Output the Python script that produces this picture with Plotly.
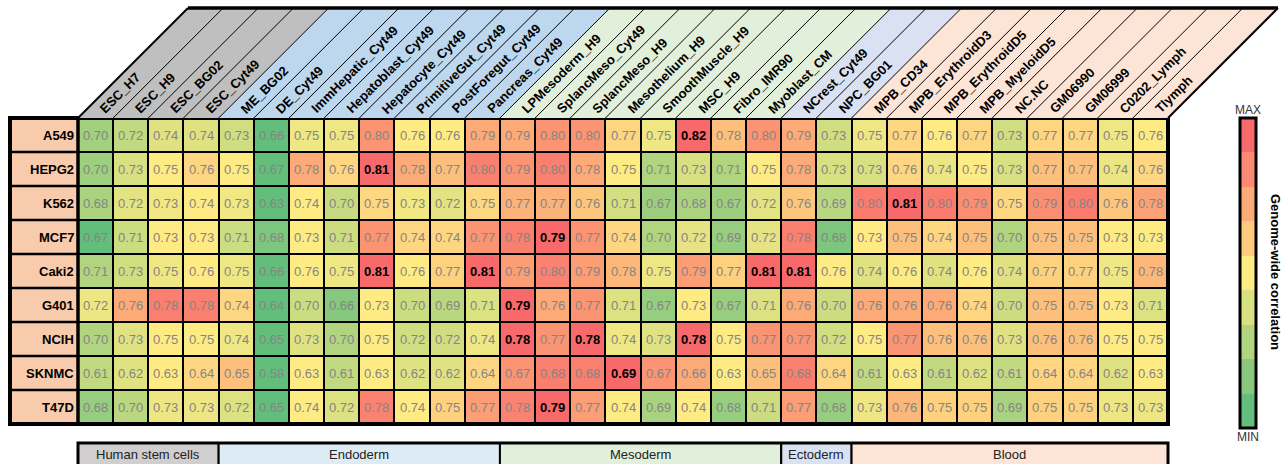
import numpy as np
import plotly.graph_objects as go

# ---------------- data ----------------
columns = ["ESC_H7", "ESC_H9", "ESC_BG02", "ESC_Cyt49", "ME_BG02", "DE_Cyt49",
           "ImmHepatic_Cyt49", "Hepatoblast_Cyt49", "Hepatocyte_Cyt49",
           "PrimitiveGut_Cyt49", "PostForegut_Cyt49", "Pancreas_Cyt49",
           "LPMesoderm_H9", "SplancMeso_Cyt49", "SplancMeso_H9", "Mesothelium_H9",
           "SmoothMuscle_H9", "MSC_H9", "Fibro_IMR90", "Myoblast_CM",
           "NCrest_Cyt49", "NPC_BG01", "MPB_CD34", "MPB_ErythroidD3",
           "MPB_ErythroidD5", "MPB_MyeloidD5", "NC.NC", "GM06990", "GM06999",
           "C0202_Lymph", "Tlymph"]

rows = ["A549", "HEPG2", "K562", "MCF7", "Caki2", "G401", "NCIH", "SKNMC", "T47D"]

A549 = [0.70, 0.72, 0.74, 0.74, 0.73, 0.66, 0.75, 0.75, 0.80, 0.76, 0.76, 0.79, 0.79, 0.80, 0.80, 0.77,
        0.75, 0.82, 0.78, 0.80, 0.79, 0.73, 0.75, 0.77, 0.76, 0.77, 0.73, 0.77, 0.77, 0.75, 0.76]
HEPG2 = [0.70, 0.73, 0.75, 0.76, 0.75, 0.67, 0.78, 0.76, 0.81, 0.78, 0.77, 0.80, 0.79, 0.80, 0.78, 0.75,
         0.71, 0.73, 0.71, 0.75, 0.78, 0.73, 0.73, 0.76, 0.74, 0.75, 0.73, 0.77, 0.77, 0.74, 0.76]
K562 = [0.68, 0.72, 0.73, 0.74, 0.73, 0.63, 0.74, 0.70, 0.75, 0.73, 0.72, 0.75, 0.77, 0.77, 0.76, 0.71,
        0.67, 0.68, 0.67, 0.72, 0.76, 0.69, 0.80, 0.81, 0.80, 0.79, 0.75, 0.79, 0.80, 0.76, 0.78]
MCF7 = [0.67, 0.71, 0.73, 0.73, 0.71, 0.68, 0.73, 0.71, 0.77, 0.74, 0.74, 0.77, 0.78, 0.79, 0.77, 0.74,
        0.70, 0.72, 0.69, 0.72, 0.78, 0.68, 0.73, 0.75, 0.74, 0.75, 0.70, 0.75, 0.75, 0.73, 0.73]
Caki2 = [0.71, 0.73, 0.75, 0.76, 0.75, 0.66, 0.76, 0.75, 0.81, 0.76, 0.77, 0.81, 0.79, 0.80, 0.79, 0.78,
         0.75, 0.79, 0.77, 0.81, 0.81, 0.76, 0.74, 0.76, 0.74, 0.76, 0.74, 0.77, 0.77, 0.75, 0.78]
G401 = [0.72, 0.76, 0.78, 0.78, 0.74, 0.64, 0.70, 0.66, 0.73, 0.70, 0.69, 0.71, 0.79, 0.76, 0.77, 0.71,
        0.67, 0.73, 0.67, 0.71, 0.76, 0.70, 0.76, 0.76, 0.76, 0.74, 0.70, 0.75, 0.75, 0.73, 0.71]
NCIH = [0.70, 0.73, 0.75, 0.75, 0.74, 0.65, 0.73, 0.70, 0.75, 0.72, 0.72, 0.74, 0.78, 0.77, 0.78, 0.74,
        0.73, 0.78, 0.75, 0.77, 0.77, 0.72, 0.75, 0.77, 0.76, 0.76, 0.73, 0.76, 0.76, 0.75, 0.75]
SKNMC = [0.61, 0.62, 0.63, 0.64, 0.65, 0.58, 0.63, 0.61, 0.63, 0.62, 0.62, 0.64, 0.67, 0.68, 0.68, 0.69,
         0.67, 0.66, 0.63, 0.65, 0.68, 0.64, 0.61, 0.63, 0.61, 0.62, 0.61, 0.64, 0.64, 0.62, 0.63]
T47D = [0.68, 0.70, 0.73, 0.73, 0.72, 0.65, 0.74, 0.72, 0.78, 0.74, 0.75, 0.77, 0.78, 0.79, 0.77, 0.74,
        0.69, 0.74, 0.68, 0.71, 0.77, 0.68, 0.73, 0.76, 0.75, 0.75, 0.69, 0.75, 0.75, 0.73, 0.73]

row_values = [A549, HEPG2, K562, MCF7, Caki2, G401, NCIH, SKNMC, T47D]

groups = ["Human stem cells", "Endoderm", "Mesoderm", "Ectoderm", "Blood"]
group_sizes = [4, 8, 8, 2, 9]

# ---------------- styles ----------------
header_colors = ["#bfbfbf", "#bdd7ee", "#e2efda", "#d9e1f2", "#fce4d6"]
bar_colors = ["#d0cece", "#ddebf7", "#e2efda", "#d9e1f2", "#fce4d6"]
label_bg = "#f8cbad"
C_MIN, C_MID, C_MAX = (99, 190, 123), (255, 235, 132), (248, 105, 107)
FONT = "Liberation Sans, Arial, Helvetica, sans-serif"

W, H = 1284, 464
L, R, T, B = 78, 1168, 118, 424      # plot area in pixels
HEAD_TOP = 8
LABEL_LEFT = 10
BAR_TOP, BAR_BOT = 443, 475

def pxx(x):
    return (x - L) / (R - L)

def pyy(y):
    return (B - y) / (B - T)

ncol, nrow = len(columns), len(rows)
cw = (R - L) / ncol
rh = (B - T) / nrow
hh = T - HEAD_TOP

# row-wise 3-colour scaling (min / median / max)
z = []
for vals in row_values:
    v = np.array(vals, dtype=float)
    lo, med, hi = v.min(), np.median(v), v.max()
    zr = np.where(v <= med, 0.5 * (v - lo) / (med - lo), 0.5 + 0.5 * (v - med) / (hi - med))
    z.append(zr.tolist())

def rgb(c):
    return "rgb(%d,%d,%d)" % tuple(int(round(x)) for x in c)

def lerp(a, b, t):
    return tuple(a[k] + (b[k] - a[k]) * t for k in range(3))

cont_scale = [[0, rgb(C_MIN)], [0.5, rgb(C_MID)], [1, rgb(C_MAX)]]
disc_scale = []
for i in range(9):
    t = i / 8
    c = lerp(C_MIN, C_MID, t * 2) if t <= 0.5 else lerp(C_MID, C_MAX, (t - 0.5) * 2)
    disc_scale.append([i / 9, rgb(c)])
    disc_scale.append([(i + 1) / 9, rgb(c)])

fig = go.Figure()
fig.add_trace(go.Heatmap(
    z=z, x=columns, y=rows, colorscale=cont_scale, zmin=0, zmax=1,
    xgap=2, ygap=2, showscale=False, hoverinfo="skip"))

# dummy trace carrying the discrete colour bar
fig.add_trace(go.Scatter(
    x=[columns[0]], y=[rows[0]], mode="markers", hoverinfo="skip", showlegend=False,
    marker=dict(size=1, opacity=0, color=[0.5], colorscale=disc_scale, cmin=0, cmax=1,
                showscale=True,
                colorbar=dict(x=pxx(1240), xanchor="left", y=pyy(273), yanchor="middle",
                              len=310, lenmode="pixels", thickness=16, thicknessmode="pixels",
                              outlinewidth=3, outlinecolor="black", showticklabels=False,
                              ticks="", xpad=0, ypad=0))))

shapes = []
annotations = []

# row label column
shapes.append(dict(type="rect", xref="paper", yref="paper", x0=pxx(LABEL_LEFT), x1=0, y0=0, y1=1,
                   fillcolor=label_bg, line=dict(width=0), layer="above"))
for k in range(1, nrow):
    yk = pyy(T + k * rh)
    shapes.append(dict(type="line", xref="paper", yref="paper", x0=pxx(LABEL_LEFT), x1=0,
                       y0=yk, y1=yk, line=dict(color="black", width=2.5)))
shapes.append(dict(type="line", xref="paper", yref="paper", x0=0, x1=0, y0=0, y1=1,
                   line=dict(color="black", width=3.5)))
shapes.append(dict(type="rect", xref="paper", yref="paper", x0=pxx(LABEL_LEFT), x1=1, y0=0, y1=1,
                   line=dict(color="black", width=4)))

# slanted header
start = 0
for g, n in enumerate(group_sizes):
    xa, xb = L + start * cw, L + (start + n) * cw
    path = "M %f,%f L %f,%f L %f,%f L %f,%f Z" % (
        pxx(xa), pyy(T), pxx(xb), pyy(T), pxx(xb + hh), pyy(HEAD_TOP), pxx(xa + hh), pyy(HEAD_TOP))
    shapes.append(dict(type="path", xref="paper", yref="paper", path=path,
                       fillcolor=header_colors[g], line=dict(width=0), layer="above"))
    # bottom group bar
    shapes.append(dict(type="rect", xref="paper", yref="paper", x0=pxx(xa), x1=pxx(xb),
                       y0=pyy(BAR_BOT), y1=pyy(BAR_TOP), fillcolor=bar_colors[g],
                       line=dict(color="black", width=2), layer="above"))
    annotations.append(dict(xref="paper", yref="paper", x=pxx((xa + xb) / 2), y=pyy(454),
                            xanchor="center", yanchor="middle",
                            text=groups[g], showarrow=False,
                            font=dict(family=FONT, size=13, color="#222222")))
    start += n

shapes.append(dict(type="rect", xref="paper", yref="paper", x0=0, x1=1,
                   y0=pyy(BAR_BOT), y1=pyy(BAR_TOP), line=dict(color="black", width=3)))

for k in range(1, ncol):
    xk = L + k * cw
    shapes.append(dict(type="line", xref="paper", yref="paper", x0=pxx(xk), y0=pyy(T),
                       x1=pxx(xk + hh), y1=pyy(HEAD_TOP), line=dict(color="black", width=1)))
for xk in (L, R):
    shapes.append(dict(type="line", xref="paper", yref="paper", x0=pxx(xk), y0=pyy(T),
                       x1=pxx(xk + hh), y1=pyy(HEAD_TOP), line=dict(color="black", width=2)))
shapes.append(dict(type="line", xref="paper", yref="paper", x0=pxx(L + hh), y0=pyy(HEAD_TOP),
                   x1=pxx(R + hh), y1=pyy(HEAD_TOP), line=dict(color="black", width=3.5)))

# header labels (rotated)
HO = 15.0
S_OFF = 7.0
for j, name in enumerate(columns):
    c = L + (j + 0.5) * cw
    ax = c + S_OFF - 0.354 * HO
    ay = T - S_OFF + 0.354 * HO
    annotations.append(dict(xref="paper", yref="paper", x=pxx(ax), y=pyy(ay),
                            xanchor="left", yanchor="bottom", textangle=-45,
                            text="<b>%s</b>" % name, showarrow=False, borderpad=0, borderwidth=0,
                            font=dict(family=FONT, size=13, color="black")))

# row labels
for i, r in enumerate(rows):
    annotations.append(dict(xref="paper", yref="y", x=pxx(L - 2), y=r, xanchor="right",
                            yanchor="middle",
                            text="<b>%s</b>" % r, showarrow=False,
                            font=dict(family=FONT, size=13, color="black")))

# cell values
for i, r in enumerate(rows):
    vals = row_values[i]
    mx = max(vals)
    for j, cname in enumerate(columns):
        v = vals[j]
        if v == mx:
            txt, col = "<b>%.2f</b>" % v, "black"
        else:
            txt, col = "%.2f" % v, "#858585"
        annotations.append(dict(x=cname, y=r, xref="x", yref="y", text=txt, showarrow=False,
                                xanchor="center", yanchor="middle",
                                font=dict(family=FONT, size=13, color=col)))

# colour bar labels
annotations.append(dict(xref="paper", yref="paper", x=pxx(1248), y=pyy(110), text="MAX",
                        xanchor="center", yanchor="middle",
                        showarrow=False, font=dict(family=FONT, size=12, color="#333333")))
annotations.append(dict(xref="paper", yref="paper", x=pxx(1248), y=pyy(437), text="MIN",
                        xanchor="center", yanchor="middle",
                        showarrow=False, font=dict(family=FONT, size=12, color="#333333")))
annotations.append(dict(xref="paper", yref="paper", x=pxx(1276), y=pyy(272),
                        xanchor="center", yanchor="middle",
                        text="<b>Genome-wide correlation</b>", textangle=90, showarrow=False,
                        font=dict(family=FONT, size=13, color="black")))

fig.update_layout(
    width=W, height=H,
    margin=dict(l=L, r=W - R, t=T, b=H - B, pad=0, autoexpand=False),
    paper_bgcolor="white", plot_bgcolor="black",
    xaxis=dict(range=[-0.5, ncol - 0.5], showticklabels=False, showgrid=False, zeroline=False,
               ticks="", fixedrange=True),
    yaxis=dict(range=[nrow - 0.5, -0.5], showticklabels=False, showgrid=False, zeroline=False,
               ticks="", fixedrange=True),
    shapes=shapes, annotations=annotations, showlegend=False,
    font=dict(family=FONT),
)

fig.write_html("out.html", config={"displayModeBar": False},
               post_script="document.body.style.margin='0px';document.body.style.overflow='hidden';")
